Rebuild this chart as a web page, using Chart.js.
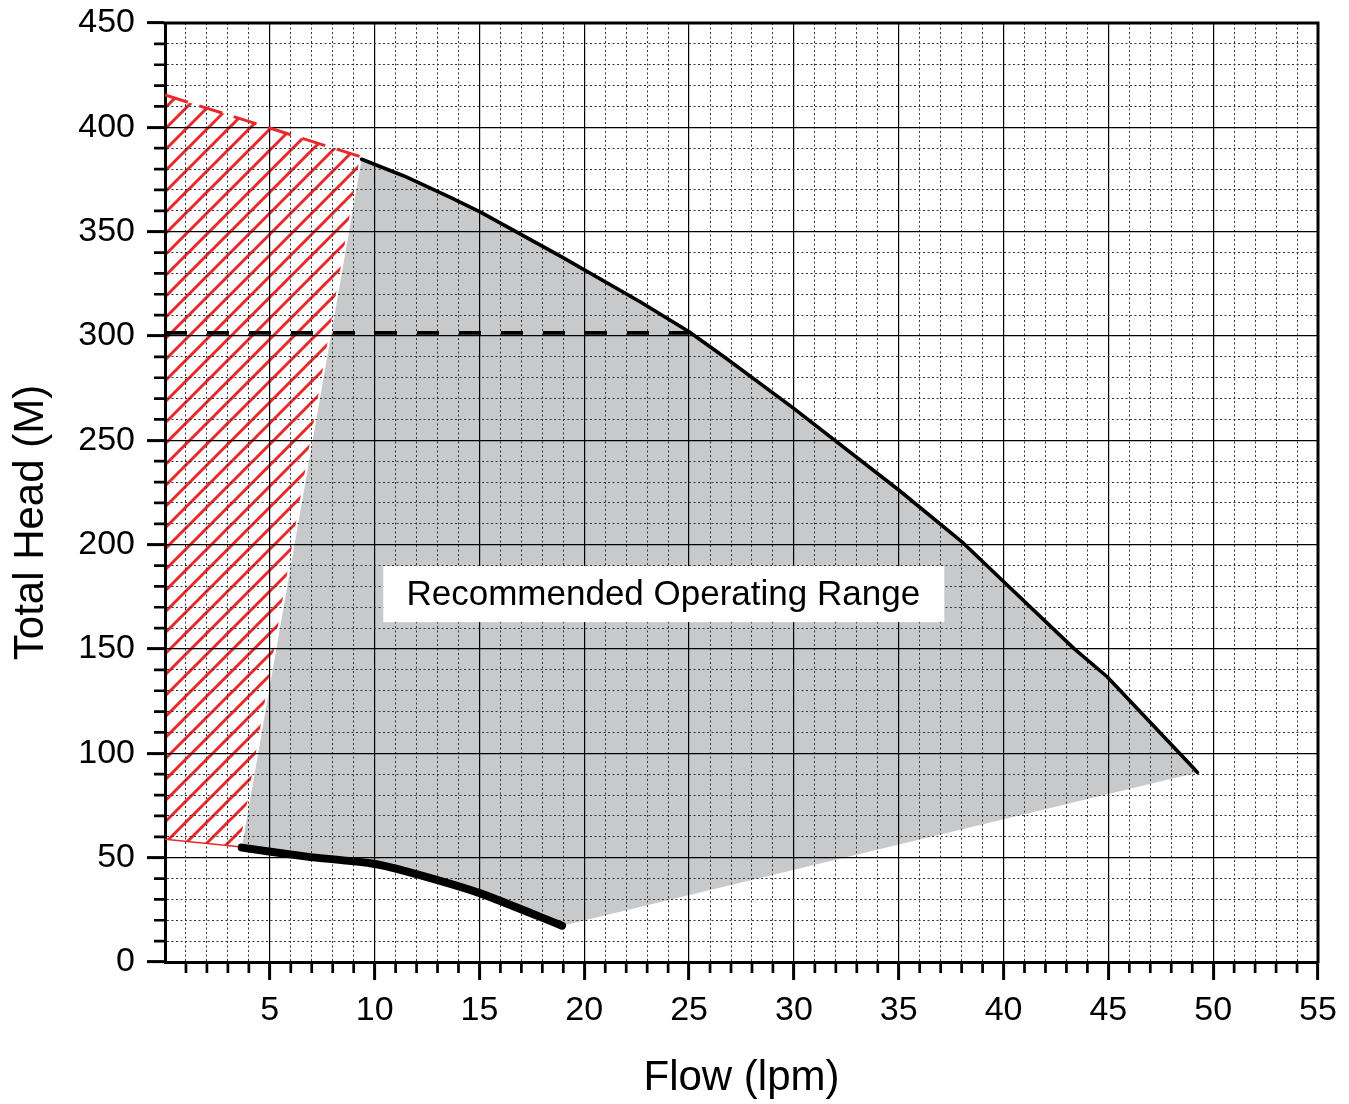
<!DOCTYPE html>
<html>
<head>
<meta charset="utf-8">
<script src="https://cdn.jsdelivr.net/npm/chart.js@4/dist/chart.umd.min.js"></script>
<style>
  body { margin: 0; background: #fff; }
  #pumpChart { display: block; }
</style>
</head>
<body>
<canvas id="pumpChart" width="1349" height="1104"></canvas>
<script>
// pump curve (max head) - flow lpm / head m
var curveX = [9.38, 11.4, 13.61, 15.05, 18.86, 22.68, 25.0, 26.73, 29.99, 35.0, 38.0, 40.01, 43.35, 44.94, 49.07, 49.25];
var curveY = [384.7, 376.7, 366.4, 359.4, 338.3, 316.3, 302.0, 289.6, 265.3, 226.2, 201.5, 182.2, 150.3, 136.7, 92.8, 90.8];

// minimum flow curve (thick line at the bottom)
var minX = [3.66, 6.77, 9.79, 11.55, 15.04, 18.94];
var minY = [54.8, 50.5, 47.3, 43.3, 32.9, 17.4];

// red hatched (do not operate) zone
var hatchX = [0, 9.3, 3.55, 0];
var hatchY = [415.5, 386, 55.2, 58.8];

// dashed limit line
var limitX = [0, 25.0];
var limitY = [301.5, 301.5];

var labelText = "Recommended Operating Range";
var labelAt = [23.77, 176.3];
var yTitle = "Total Head (M)";

var xTicks = [5, 10, 15, 20, 25, 30, 35, 40, 45, 50, 55];
var yTicks = [0, 50, 100, 150, 200, 250, 300, 350, 400, 450];

var FONT = '"Liberation Sans", Arial, Helvetica, sans-serif';

function pts(xs, ys) {
  return xs.map(function (x, i) { return {x: x, y: ys[i]}; });
}

// grey operating area = pump curve, straight edge down to end of min flow curve, min curve back
var rangePts = [{x: minX[0], y: minY[0]}]
  .concat(pts(curveX, curveY))
  .concat(pts(minX, minY).reverse());

function makeHatch() {
  var s = 21;
  var c = document.createElement('canvas');
  c.width = s; c.height = s;
  var g = c.getContext('2d');
  g.strokeStyle = '#e8292c';
  g.lineWidth = 3;
  g.beginPath();
  g.moveTo(-2, s + 2); g.lineTo(s + 2, -2);
  g.moveTo(-2, 2); g.lineTo(2, -2);
  g.moveTo(s - 2, s + 2); g.lineTo(s + 2, s - 2);
  g.stroke();
  return g.createPattern(c, 'repeat');
}

function isMajor(ctx, step) {
  return ctx.tick && Math.round(ctx.tick.value) % step === 0;
}

var framePlugin = {
  id: 'frame',
  afterDraw: function (chart) {
    var c = chart.ctx, a = chart.chartArea;
    var xs = chart.scales.x, ys = chart.scales.y;
    c.save();
    c.strokeStyle = '#000';
    c.lineWidth = 3;
    c.beginPath();
    c.moveTo(a.left - 1.5, a.top);
    c.lineTo(a.right, a.top);
    c.lineTo(a.right, a.bottom + 1.5);
    c.stroke();
    // minor ticks
    c.lineWidth = 2.7;
    c.beginPath();
    for (var v = 1; v < 55; v++) {
      if (v % 5 === 0) continue;
      var px = xs.getPixelForValue(v);
      c.moveTo(px, a.bottom);
      c.lineTo(px, a.bottom + 11);
    }
    for (var w = 10; w < 450; w += 10) {
      if (w % 50 === 0) continue;
      var py = ys.getPixelForValue(w);
      c.moveTo(a.left, py);
      c.lineTo(a.left - 11, py);
    }
    c.stroke();
    // label box
    var lx = xs.getPixelForValue(labelAt[0]);
    var ly = ys.getPixelForValue(labelAt[1]);
    c.fillStyle = '#fff';
    c.fillRect(lx - 280, ly - 28, 561, 56);
    c.fillStyle = '#000';
    c.font = '35px ' + FONT;
    c.textAlign = 'center';
    c.textBaseline = 'middle';
    c.fillText(labelText, lx, ly + 1);
    // y axis title, sits a bit below the plot centre in the original
    c.translate(31, (a.top + a.bottom) / 2 + 30);
    c.rotate(-Math.PI / 2);
    c.font = '42px ' + FONT;
    c.fillText(yTitle, 0, 0);
    c.restore();
  }
};

new Chart(document.getElementById('pumpChart'), {
  type: 'line',
  data: {
    datasets: [
      {
        data: pts(curveX, curveY),
        borderColor: '#000', borderWidth: 3.6, borderJoinStyle: 'round', borderCapStyle: 'round',
        fill: false, tension: 0
      },
      {
        data: pts(minX, minY),
        borderColor: '#000', borderWidth: 8, borderCapStyle: 'round', borderJoinStyle: 'round',
        fill: false, tension: 0.2
      },
      {
        data: pts(limitX, limitY),
        borderColor: '#000', borderWidth: 3.6, borderDash: [22, 20],
        fill: false
      },
      {
        data: pts(hatchX.slice(0, 2), hatchY.slice(0, 2)),
        borderColor: '#e8292c', borderWidth: 3, borderDash: [24, 12],
        fill: false
      },
      {
        data: pts([hatchX[2], hatchX[3]], [hatchY[2], hatchY[3]]),
        borderColor: '#e8292c', borderWidth: 1.5,
        fill: false
      },
      {
        data: pts(hatchX, hatchY),
        borderColor: 'rgba(0,0,0,0)', borderWidth: 0,
        backgroundColor: makeHatch(),
        fill: 'shape'
      },
      {
        data: rangePts,
        borderColor: 'rgba(0,0,0,0)', borderWidth: 0,
        backgroundColor: '#c8c9cb',
        fill: 'shape'
      }
    ]
  },
  options: {
    responsive: false,
    animation: false,
    layout: {padding: {top: 23, right: 31, left: 0, bottom: 0}},
    elements: {point: {radius: 0}, line: {tension: 0}},
    plugins: {
      legend: {display: false},
      tooltip: {enabled: false},
      filler: {drawTime: 'beforeDraw'}
    },
    scales: {
      x: {
        type: 'linear', min: 0, max: 55,
        afterFit: function (s) { s.height = 142; s.paddingLeft = 0; s.paddingRight = 0; },
        ticks: {
          stepSize: 1, autoSkip: false, maxRotation: 0, padding: 10,
          color: '#000', font: {size: 34, family: FONT},
          callback: function (v) { return xTicks.indexOf(v) >= 0 ? String(v) : ''; }
        },
        grid: {
          color: function (c) { return isMajor(c, 5) ? '#000' : '#333'; },
          lineWidth: function (c) { return isMajor(c, 5) ? 1.2 : 1; },
          tickLength: 18, tickWidth: 3,
          tickColor: function (c) { return isMajor(c, 5) && c.tick.value !== 0 ? '#000' : 'rgba(0,0,0,0)'; }
        },
        border: {
          color: '#000', width: 3,
          dash: function (c) { return c.tick && !isMajor(c, 5) ? [2, 2.5] : []; }
        },
        title: {display: true, text: 'Flow (lpm)', color: '#000', padding: {top: 4, bottom: 0}, font: {size: 42, family: FONT}}
      },
      y: {
        type: 'linear', min: 0, max: 450,
        afterFit: function (s) { s.width = 165; s.paddingTop = 0; s.paddingBottom = 0; },
        ticks: {
          stepSize: 10, autoSkip: false, padding: 12,
          color: '#000', font: {size: 34, family: FONT},
          callback: function (v) { return yTicks.indexOf(v) >= 0 ? String(v) : ''; }
        },
        grid: {
          color: function (c) { return isMajor(c, 50) ? '#000' : '#333'; },
          lineWidth: function (c) { return isMajor(c, 50) ? 1.2 : 1; },
          tickLength: 18, tickWidth: 3,
          tickColor: function (c) { return isMajor(c, 50) ? '#000' : 'rgba(0,0,0,0)'; }
        },
        border: {
          color: '#000', width: 3,
          dash: function (c) { return c.tick && !isMajor(c, 50) ? [2, 2.5] : []; }
        }
      }
    }
  },
  plugins: [framePlugin]
});
</script>
</body>
</html>
